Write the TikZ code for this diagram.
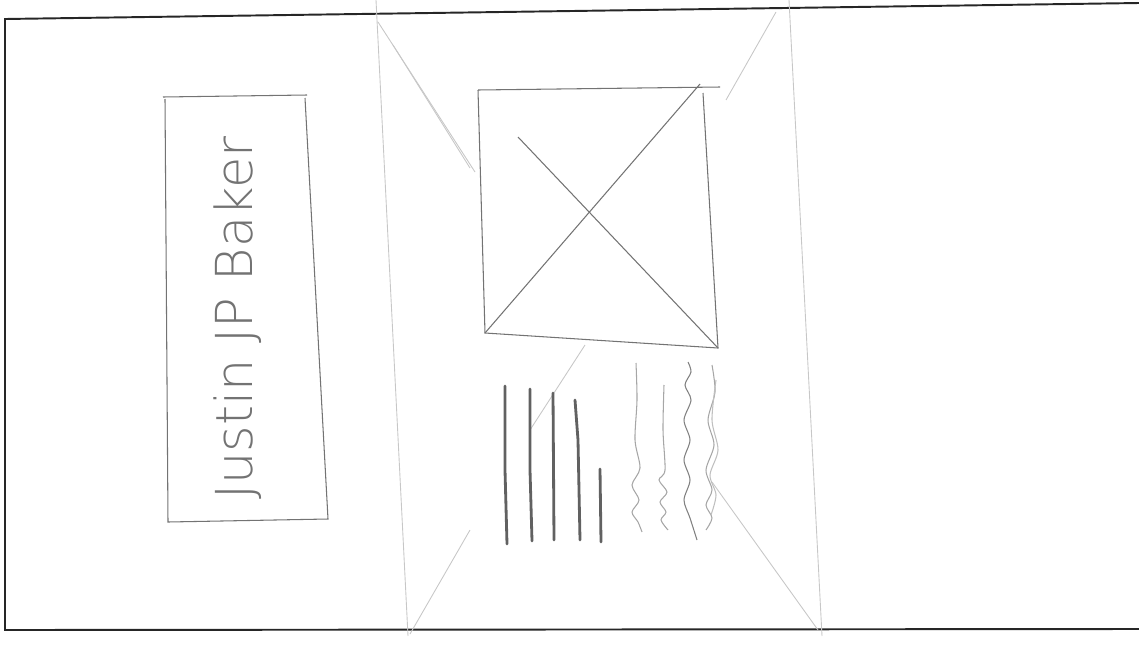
\documentclass[tikz,border=0pt]{standalone}
\usepackage{fontspec}
\newfontfamily\handfont{DejaVu Sans ExtraLight}
\begin{document}
\begin{tikzpicture}[x=0.02cm,y=-0.02cm,
  frame/.style={draw=black!85,line width=1.1pt},
  faint/.style={draw=black!22,line width=0.5pt},
  pencil/.style={draw=black!55,line width=0.6pt},
  bar/.style={draw=black!62,line width=1.6pt,line cap=round},
  wave/.style={draw=black!35,line width=0.6pt}]
\useasboundingbox (0,0) rectangle (1139,646);
% outer frame
\draw[frame] (1139,3) -- (5,19) -- (5,630) -- (1139,629);
% big faint box
\draw[faint] (376,0) -- (408,636);
\draw[faint] (789,0) -- (822,636);
\draw[faint] (378,22) -- (475,172);
\draw[faint] (393,45) -- (470,168);
\draw[faint] (776,12) -- (726,100);
\draw[faint] (410,634) -- (470,530);
\draw[faint] (818,630) -- (712,482);
\draw[faint] (530,430) -- (585,345);
% name box
\draw[pencil] (163,97) -- (307,95);
\draw[pencil] (165,99) -- (168,522) -- (328,519) -- (305,98);
\node[rotate=90,text=black!55,font=\handfont\fontsize{29}{33}\selectfont] (name) at (238,318) {Justin JP Baker};
% inner square
\draw[pencil] (478,90) -- (720,87);
\draw[pencil] (478,90) -- (485,333) -- (718,348) -- (703,93);
\draw[pencil] (485,333) -- (700,84);
\draw[pencil] (518,137) -- (718,348);
% bars
\draw[bar] (505,386) -- (505,470) -- (507,544);
\draw[bar] (530,389) -- (530,470) -- (532,541);
\draw[bar] (553,393) -- (554,540);
\draw[bar] (575,400) -- (578,440) -- (580,540);
\draw[bar] (600,469) -- (601,542);
% waves
\draw[wave] plot[smooth] coordinates {(636,363) (637,400) (635,440) (640,468) (632,485) (639,500) (632,512) (638,522) (642,532)};
\draw[wave] plot[smooth] coordinates {(664,385) (663,430) (665,470) (659,480) (667,492) (660,502) (666,512) (661,520) (668,530)};
\draw[wave,draw=black!50] plot[smooth] coordinates {(688,362) (691,372) (685,385) (691,400) (684,420) (690,440) (684,460) (690,480) (684,500) (690,518) (697,540)};
\draw[wave] plot[smooth] coordinates {(712,365) (715,392) (708,420) (714,445) (706,470) (712,490) (706,505) (712,518) (706,530)};
\draw[wave,draw=black!25] plot[smooth] coordinates {(716,380) (712,420) (718,450) (710,475) (716,495) (711,515)};
\end{tikzpicture}
\end{document}
